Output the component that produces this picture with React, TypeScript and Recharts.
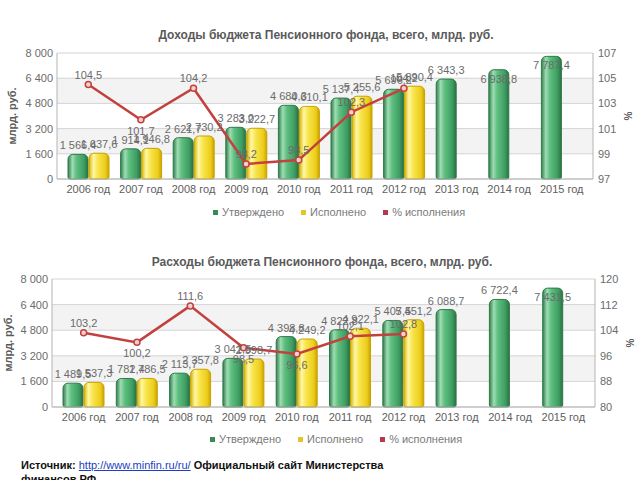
import React from 'react';
import { ComposedChart, Bar, Line, XAxis, YAxis, CartesianGrid, LabelList } from 'recharts';

const years = ['2006 год', '2007 год', '2008 год', '2009 год', '2010 год', '2011 год', '2012 год', '2013 год', '2014 год', '2015 год'];

// Доходы
const incomePlanned = [1566.4, 1914.1, 2621.7, 3283.0, 4680.3, 5137.4, 5696.2, 6343.3, 6938.8, 7787.4];
const incomeActual = [1637.6, 1946.8, 2730.2, 3222.7, 4610.1, 5255.6, 5890.4, null, null, null];
const incomePct = [104.5, 101.7, 104.2, 98.2, 98.5, 102.3, 104.2, null, null, null];

// Расходы
const spendPlanned = [1489.5, 1782.4, 2113.7, 3041.5, 4398.8, 4822.8, 5407.5, 6088.7, 6722.4, 7431.5];
const spendActual = [1537.3, 1786.5, 2357.8, 2998.7, 4249.2, 4922.1, 5451.2, null, null, null];
const spendPct = [103.2, 100.2, 111.6, 98.5, 96.6, 102.1, 102.8, null, null, null];

const moneyTicks = [0, 1600, 3200, 4800, 6400, 8000];
const incomePctTicks = [97, 99, 101, 103, 105, 107];
const spendPctTicks = [80, 88, 96, 104, 112, 120];

const incomeRows = years.map((year, i) => ({ year, planned: incomePlanned[i], actual: incomeActual[i], pct: incomePct[i] }));
const spendRows = years.map((year, i) => ({ year, planned: spendPlanned[i], actual: spendActual[i], pct: spendPct[i] }));

const FONT = '"Liberation Sans", Arial, sans-serif';

const fmtThousands = (v: number) => {
  const [int, dec] = v.toFixed(1).split('.');
  return int.replace(/\B(?=(\d{3})+(?!\d))/g, ' ') + ',' + dec;
};
const fmtTick = (v: number) => String(v).replace(/\B(?=(\d{3})+(?!\d))/g, ' ');
const fmtPct = (v: number) => v.toFixed(1).replace('.', ',');

const BarValue = (props: any) => {
  const { x, y, width, value, plotTop } = props;
  if (value == null) return null;
  // labels that would hit the top of the plot go inside the bar
  const inside = y - plotTop < 19;
  return (
    <text x={x + width / 2} y={inside ? y + 13 : y - 5} textAnchor="middle" fontSize={11} fill="#6b6b6b" fontFamily={FONT}>
      {fmtThousands(value)}
    </text>
  );
};

const PctValue = (props: any) => {
  const { x, y, value, index, below } = props;
  if (value == null) return null;
  return (
    <text x={x} y={below.includes(index) ? y + 15 : y - 6} textAnchor="middle" fontSize={11} fill="#6b6b6b" fontFamily={FONT}>
      {fmtPct(value)}
    </text>
  );
};

function BudgetChart({ rows, id, plotTop, leftWidth, rightMargin, pctTicks, below, leftLabelOffset }: any) {
  return (
    <ComposedChart
      width={640}
      height={205}
      data={rows}
      margin={{ top: plotTop, right: rightMargin, bottom: 6, left: 0 }}
      barGap={1}
    >
      <defs>
        <linearGradient id={id + 'Green'} x1="0" y1="0" x2="1" y2="0">
          <stop offset="0%" stopColor="#2f7e4c" />
          <stop offset="22%" stopColor="#9fdcb4" />
          <stop offset="42%" stopColor="#5fbf80" />
          <stop offset="80%" stopColor="#3e9d62" />
          <stop offset="100%" stopColor="#2b6f44" />
        </linearGradient>
        <linearGradient id={id + 'Yellow'} x1="0" y1="0" x2="1" y2="0">
          <stop offset="0%" stopColor="#d7b400" />
          <stop offset="22%" stopColor="#fff7a6" />
          <stop offset="45%" stopColor="#f8e44a" />
          <stop offset="82%" stopColor="#eccd1c" />
          <stop offset="100%" stopColor="#caa300" />
        </linearGradient>
      </defs>
      <CartesianGrid vertical={false} stroke="#d4d4d4" horizontalFill={['#ffffff', '#f3f3f3']} yAxisId="money" />
      <XAxis
        dataKey="year"
        height={20}
        padding={{ left: 5, right: 5 }}
        tickLine={false}
        tickSize={6}
        tickMargin={0}
        axisLine={{ stroke: '#b4b4b4' }}
        tick={{ fontSize: 11, fill: '#5e5e5e', fontFamily: FONT }}
        interval={0}
      />
      <YAxis
        yAxisId="money"
        width={leftWidth}
        domain={[0, 8000]}
        ticks={moneyTicks}
        tickFormatter={fmtTick}
        tickLine={false}
        tickSize={4}
        tickMargin={0}
        axisLine={{ stroke: '#b4b4b4' }}
        tick={{ fontSize: 11, fill: '#6b6b6b', fontFamily: FONT }}
        label={{
          value: 'млрд. руб.',
          angle: -90,
          position: 'insideLeft',
          offset: leftLabelOffset,
          style: { textAnchor: 'middle', fontSize: 11, fontWeight: 'bold', fill: '#5a5a5a', fontFamily: FONT },
        }}
      />
      <YAxis
        yAxisId="pct"
        orientation="right"
        width={40}
        domain={[pctTicks[0], pctTicks[pctTicks.length - 1]]}
        ticks={pctTicks}
        tickLine={false}
        tickSize={5}
        tickMargin={0}
        axisLine={{ stroke: '#b4b4b4' }}
        tick={{ fontSize: 11, fill: '#6b6b6b', fontFamily: FONT }}
        label={{
          value: '%',
          angle: -90,
          position: 'insideRight',
          offset: 5,
          style: { textAnchor: 'middle', fontSize: 10, fontWeight: 'bold', fill: '#5a5a5a', fontFamily: FONT },
        }}
      />
      <Bar yAxisId="money" dataKey="planned" name="Утверждено" barSize={20} fill={`url(#${id}Green)`} stroke="#2f7a48" strokeWidth={1} radius={[5, 5, 2, 2]} isAnimationActive={false}>
        <LabelList dataKey="planned" content={(p: any) => <BarValue {...p} plotTop={plotTop} />} />
      </Bar>
      <Bar yAxisId="money" dataKey="actual" name="Исполнено" barSize={20} fill={`url(#${id}Yellow)`} stroke="#c9a200" strokeWidth={1} radius={[5, 5, 2, 2]} isAnimationActive={false}>
        <LabelList dataKey="actual" content={(p: any) => <BarValue {...p} plotTop={plotTop} />} />
      </Bar>
      <Line
        yAxisId="pct"
        dataKey="pct"
        name="% исполнения"
        stroke="#c2413f"
        strokeWidth={2.5}
        dot={{ r: 3, fill: '#f3d0d0', stroke: '#c2413f', strokeWidth: 1.5 }}
        isAnimationActive={false}
      >
        <LabelList dataKey="pct" content={(p: any) => <PctValue {...p} below={below} />} />
      </Line>
    </ComposedChart>
  );
}

const legendItems = [
  { label: 'Утверждено', color: '#3a8a58' },
  { label: 'Исполнено', color: '#e7c52a' },
  { label: '% исполнения', color: '#b83a4a' },
];

function LegendRow({ top, left }: { top: number; left: number }) {
  return (
    <div style={{ position: 'absolute', top, left, display: 'flex', gap: 17, fontSize: 11, color: '#7a7a7a', fontFamily: FONT }}>
      {legendItems.map((it) => (
        <div key={it.label} style={{ display: 'flex', alignItems: 'center', gap: 4 }}>
          <span style={{ width: 5, height: 5, background: it.color, display: 'inline-block' }} />
          <span>{it.label}</span>
        </div>
      ))}
    </div>
  );
}

const titleStyle: React.CSSProperties = {
  position: 'absolute',
  left: 0,
  width: 652,
  textAlign: 'center',
  fontSize: 12,
  fontWeight: 'bold',
  color: '#5a5a5a',
  fontFamily: FONT,
};

export default function App() {
  return (
    <div style={{ position: 'fixed', top: 0, left: 0, width: 640, height: 480, overflow: 'hidden', background: '#fff', fontFamily: FONT }}>
      <div style={{ ...titleStyle, top: 28 }}>Доходы бюджета Пенсионного фонда, всего, млрд. руб.</div>
      <div style={{ position: 'absolute', top: 0, left: 0 }}>
        <BudgetChart rows={incomeRows} id="inc" plotTop={53} leftWidth={57} rightMargin={7} pctTicks={incomePctTicks} below={[1]} leftLabelOffset={12} />
      </div>
      <LegendRow top={206} left={213} />

      <div style={{ ...titleStyle, top: 255, width: 644 }}>Расходы бюджета Пенсионного фонда, всего, млрд. руб.</div>
      <div style={{ position: 'absolute', top: 228, left: 0 }}>
        <BudgetChart rows={spendRows} id="exp" plotTop={51} leftWidth={52} rightMargin={5} pctTicks={spendPctTicks} below={[1, 3, 4]} leftLabelOffset={8} />
      </div>
      <LegendRow top={433} left={210} />

      <div style={{ position: 'absolute', top: 458, left: 21, fontSize: 11, fontWeight: 'bold', color: '#111', lineHeight: '14px', fontFamily: FONT }}>
        Источник: <span style={{ color: '#1a3fbf', textDecoration: 'underline', fontWeight: 'normal' }}>http://www.minfin.ru/ru/</span> Официальный сайт Министерства
        <br />
        финансов РФ
      </div>
    </div>
  );
}
